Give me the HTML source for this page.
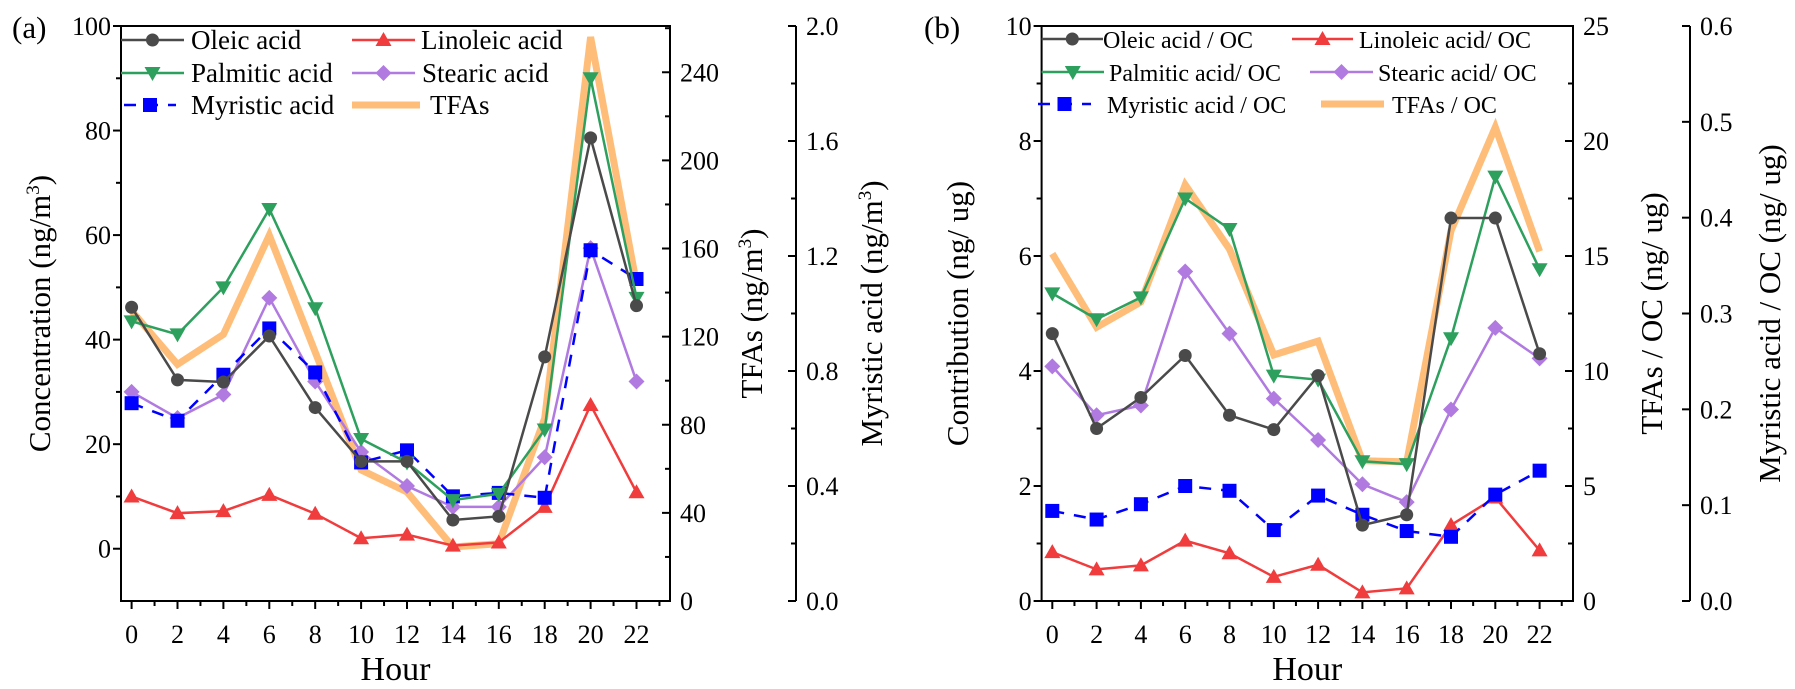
<!DOCTYPE html>
<html><head><meta charset="utf-8">
<style>
body{margin:0;background:#fff;}
svg{display:block;}
svg text{font-family:"Liberation Serif","Times New Roman","DejaVu Serif",serif;}
</style></head>
<body>
<svg id="chart" width="1795" height="689" viewBox="0 0 1795 689" xmlns="http://www.w3.org/2000/svg">
<g id="layer"></g>
</svg>
<script>
const hours = [0,2,4,6,8,10,12,14,16,18,20,22];
// Panel (a) concentrations
const aOleic = [46.2,32.3,31.9,40.7,27,16.7,16.7,5.5,6.2,36.7,78.6,46.5];
const aLinoleic = [10,6.8,7.2,10.3,6.7,2,2.7,0.6,1.2,8,27.5,10.8];
const aPalmitic = [43.5,41,50,65,46,21,16.5,9.3,10.5,22.8,90,48];
const aStearic = [30,25,29.5,48,32,18.5,12,8,8,17.5,57.5,32];
const aMyristic = [0.688,0.627,0.787,0.948,0.795,0.482,0.524,0.364,0.376,0.359,1.22,1.12];
const aTFAs = [131.7,107.4,121,166,113,59.5,49.5,24.5,26,83,256,144];
const aLeftTicks = [0,20,40,60,80,100];
const aTfaTicks = [0,40,80,120,160,200,240];
const aMyrTicks = ["0.0","0.4","0.8","1.2","1.6","2.0"];
// Panel (b) contributions
const bOleic = [4.65,3.0,3.54,4.27,3.23,2.98,3.92,1.32,1.5,6.66,6.66,4.3];
const bLinoleic = [0.85,0.55,0.62,1.05,0.83,0.42,0.63,0.15,0.22,1.32,1.8,0.88];
const bPalmitic = [5.35,4.9,5.28,7.0,6.47,3.92,3.85,2.43,2.38,4.57,7.38,5.77];
const bStearic = [4.08,3.23,3.4,5.73,4.65,3.52,2.8,2.03,1.72,3.33,4.75,4.22];
const bMyristic = [0.094,0.085,0.101,0.12,0.115,0.074,0.11,0.09,0.073,0.067,0.111,0.136];
const bTFAs = [15.1,11.9,13,18.1,15.3,10.7,11.3,6.1,6.05,16.1,20.6,15.2];
const bLeftTicks = [0,2,4,6,8,10];
const bTfaTicks = [0,5,10,15,20,25];
const bMyrTicks = ["0.0","0.1","0.2","0.3","0.4","0.5","0.6"];

const NS="http://www.w3.org/2000/svg";
const FONT='"Liberation Serif","Times New Roman","DejaVu Serif",serif';
const layer=document.getElementById('layer');
function mk(tag,attrs,parent){const e=document.createElementNS(NS,tag);for(const k in attrs)e.setAttribute(k,attrs[k]);(parent||layer).appendChild(e);return e;}
function txt(s,attrs,parent){attrs['font-family']=FONT;const e=mk('text',attrs,parent);e.textContent=s;return e;}

const C={oleic:'#4a4a4a',lin:'#f03c3c',pal:'#2ea05e',ste:'#b07ae0',myr:'#0000ff',tfa:'#ffbd7a'};

function marker(g,type,x,y,col){
  let m;
  if(type==='circle'){m=mk('circle',{cx:x,cy:y,r:6.5,fill:col},g);}
  else if(type==='up'){m=mk('polygon',{points:`${x},${y-8} ${x-8},${y+6} ${x+8},${y+6}`,fill:col},g);}
  else if(type==='down'){m=mk('polygon',{points:`${x},${y+8} ${x-8},${y-6} ${x+8},${y-6}`,fill:col},g);}
  else if(type==='diamond'){m=mk('polygon',{points:`${x},${y-8} ${x+8},${y} ${x},${y+8} ${x-8},${y}`,fill:col},g);}
  else {m=mk('rect',{x:x-7,y:y-7,width:14,height:14,fill:col},g);}
  
  
}

function series(g,name,vals,xf,yf,col,type,w,dash){
  const sg=mk('g',{},g);
  
  
  const pts=vals.map((v,i)=>xf(hours[i])+','+yf(v)).join(' ');
  const pl=mk('polyline',{points:pts,fill:'none',stroke:col,'stroke-width':w,'stroke-linejoin':'miter'},sg);
  if(dash)pl.setAttribute('stroke-dasharray',dash);
  
  
  if(type)vals.forEach((v,i)=>marker(sg,type,xf(hours[i]),yf(v),col));
}

function legendEntry(g,label,x1,x2,y,tx,col,type,w,dash,fs){
  const lg=mk('g',{},g);
  
  
  const l=mk('line',{x1:x1,y1:y,x2:x2,y2:y,stroke:col,'stroke-width':w},lg);
  if(dash)l.setAttribute('stroke-dasharray',dash);
  if(type)marker(lg,type,(x1+x2)/2,y,col);
  txt(label,{x:tx,y:y+9,'font-size':fs,fill:'#000'},lg);
}

function panel(p){
  const g=mk('g',{});
  
  
  const top=26,bot=601;
  const xf=h=>p.x0+h/2*p.xstep;
  const yL=v=>bot-(v-p.lmin)/(p.lmax-p.lmin)*(bot-top);
  const yT=v=>bot-v/p.tmax*(bot-top);
  const yM=v=>bot-v/p.mmax*(bot-top);
  const fr=mk('rect',{x:p.left,y:top,width:p.right-p.left,height:bot-top,fill:'none',stroke:'#000','stroke-width':2},g);
  
  for(let h=-1;h<=23;h++){
    const x=xf(h); if(x<p.left||x>p.right)continue;
    mk('line',{x1:x,y1:bot,x2:x,y2:bot+(h%2===0?8:5),stroke:'#000','stroke-width':2},g);
    if(h%2===0&&h>=0&&h<=22){const t=txt(String(h),{x:x,y:643,'font-size':26,'text-anchor':'middle'},g);
      }
  }
  const xt=txt('Hour',{x:(p.left+p.right)/2,y:680,'font-size':34,'text-anchor':'middle'},g);
  
  p.lticks.forEach((v,i)=>{const y=yL(v);
    mk('line',{x1:p.left-8,y1:y,x2:p.left,y2:y,stroke:'#000','stroke-width':2},g);
    const t=txt(String(v),{x:p.left-10,y:y+9,'font-size':26,'text-anchor':'end'},g);
    
    if(i<p.lticks.length-1){const ym=yL(v+(p.lticks[1]-p.lticks[0])/2);mk('line',{x1:p.left-5,y1:ym,x2:p.left,y2:ym,stroke:'#000','stroke-width':2},g);}
  });
  const lt=txt('',{transform:`translate(${p.ltx},${(top+bot)/2}) rotate(-90)`,'font-size':31,'text-anchor':'middle'},g);
  lt.innerHTML=p.ltitle;
  
  p.tticks.forEach((v,i)=>{const y=yT(v);
    mk('line',{x1:p.right,y1:y,x2:p.right-8,y2:y,stroke:'#000','stroke-width':2},g);
    const t=txt(String(v),{x:p.right+10,y:y+9,'font-size':26},g);
    
    const ym=yT(v+(p.tticks[1]-p.tticks[0])/2); if(ym>top) mk('line',{x1:p.right,y1:ym,x2:p.right-5,y2:ym,stroke:'#000','stroke-width':2},g);
  });
  const tt=txt('',{transform:`translate(${p.ttx},${(top+bot)/2}) rotate(-90)`,'font-size':31,'text-anchor':'middle'},g);
  tt.innerHTML=p.ttitle;
  
  mk('line',{x1:p.mx,y1:top,x2:p.mx,y2:bot,stroke:'#000','stroke-width':2},g);
  const n=p.mticks.length-1;
  p.mticks.forEach((s,i)=>{const y=bot-i/n*(bot-top);
    mk('line',{x1:p.mx,y1:y,x2:p.mx-8,y2:y,stroke:'#000','stroke-width':2},g);
    if(i<n&&p.mminor){const ym=bot-(i+0.5)/n*(bot-top);mk('line',{x1:p.mx,y1:ym,x2:p.mx-5,y2:ym,stroke:'#000','stroke-width':2},g);}
    const t=txt(s,{x:p.mx+10,y:y+9,'font-size':26},g);
    
  });
  const mt=txt('',{transform:`translate(${p.mtx},${(top+bot)/2}) rotate(-90)`,'font-size':31,'text-anchor':'middle'},g);
  mt.innerHTML=p.mtitle;
  
  const pl=txt(p.tag,{x:p.tagx,y:38,'font-size':31},g);
  
  series(g,'tfas-series',p.tfa,xf,yT,C.tfa,null,7);
  series(g,'linoleic-series',p.lin,xf,yL,C.lin,'up',2.5);
  series(g,'stearic-series',p.ste,xf,yL,C.ste,'diamond',2.5);
  series(g,'myristic-series',p.myr,xf,yM,C.myr,'square',2.5,'12,10');
  series(g,'palmitic-series',p.pal,xf,yL,C.pal,'down',2.5);
  series(g,'oleic-series',p.ole,xf,yL,C.oleic,'circle',2.5);
  const lg=mk('g',{},g);
  
  p.legend.forEach(e=>legendEntry(lg,e[0],e[1],e[2],e[3],e[4],e[5],e[6],e[7],e[8],p.lfs));
}

const SUP3='<tspan dy="-11" font-size="19">3</tspan><tspan dy="11">)</tspan>';
panel({name:'panel-a',tag:'(a)',tagx:12,left:121,right:670,x0:131.6,xstep:45.9,lmin:-10,lmax:100,tmax:261,mmax:2.0,
  lticks:aLeftTicks,tticks:aTfaTicks,mticks:aMyrTicks,mminor:true,mx:796,
  ltitle:'Concentration (ng/m'+SUP3,ltx:50,ttitle:'TFAs (ng/m'+SUP3,ttx:762,
  mtitle:'Myristic acid (ng/m'+SUP3,mtx:882,
  ole:aOleic,lin:aLinoleic,pal:aPalmitic,ste:aStearic,myr:aMyristic,tfa:aTFAs,lfs:27,
  legend:[
   ['Oleic acid',121,184,40,191,C.oleic,'circle',2.5],
   ['Linoleic acid',352,415,40,421,C.lin,'up',2.5],
   ['Palmitic acid',121,184,73,191,C.pal,'down',2.5],
   ['Stearic acid',352,415,73,422,C.ste,'diamond',2.5],
   ['Myristic acid',124,176,105,191,C.myr,'square',2.5,'12,10'],
   ['TFAs',352,420,105,430,C.tfa,null,7]
  ]});

panel({name:'panel-b',tag:'(b)',tagx:924,left:1041.6,right:1573,x0:1052.3,xstep:44.3,lmin:0,lmax:10,tmax:25,mmax:0.6,
  lticks:bLeftTicks,tticks:bTfaTicks,mticks:bMyrTicks,mminor:false,mx:1690,
  ltitle:'Contribution (ng/ ug)',ltx:968,ttitle:'TFAs / OC (ng/ ug)',ttx:1662,
  mtitle:'Myristic acid / OC (ng/ ug)',mtx:1780,
  ole:bOleic,lin:bLinoleic,pal:bPalmitic,ste:bStearic,myr:bMyristic,tfa:bTFAs,lfs:24,
  legend:[
   ['Oleic acid / OC',1041.6,1103,39,1103,C.oleic,'circle',2.5],
   ['Linoleic acid/ OC',1292,1353,39,1359,C.lin,'up',2.5],
   ['Palmitic acid/ OC',1041.6,1104,72,1109,C.pal,'down',2.5],
   ['Stearic acid/ OC',1310,1373,72,1378,C.ste,'diamond',2.5],
   ['Myristic acid / OC',1038,1091,104,1107,C.myr,'square',2.5,'12,10'],
   ['TFAs / OC',1321,1384,104,1392,C.tfa,null,7]
  ]});
</script>
</body></html>
